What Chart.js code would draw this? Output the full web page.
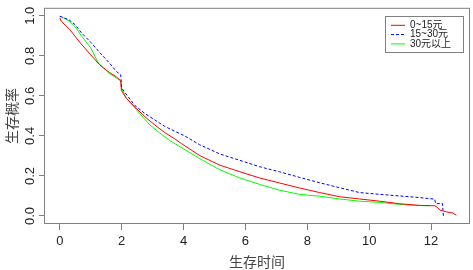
<!DOCTYPE html>
<html>
<head>
<meta charset="utf-8">
<script src="https://cdn.jsdelivr.net/npm/chart.js@4.4.1/dist/chart.umd.min.js"></script>
<style>
  html, body { margin: 0; padding: 0; background: #fff; }
  #wrap { width: 473px; height: 270px; }
</style>
</head>
<body>
<div id="wrap"><canvas id="km"></canvas></div>
<script>
// survival curves by price group
const groupLabels = ['0~15元', '15~30元', '30元以上'];

const lowT = [0, 0.05, 0.32, 0.65, 0.97, 1.29, 1.62, 1.83, 1.97, 1.99, 2.15, 2.42, 2.75, 3.07, 3.39, 3.72, 3.93, 4.52,
  5.17, 5.82, 6.46, 7.1, 7.75, 8.4, 9.05, 9.69, 10.34, 10.99, 11.63, 12.12, 12.2, 12.28, 12.49, 12.7, 12.82];
const lowS = [0.99, 0.972, 0.932, 0.867, 0.81, 0.755, 0.715, 0.695, 0.675, 0.628, 0.588, 0.545, 0.496, 0.455, 0.417, 0.385, 0.362, 0.302,
  0.254, 0.221, 0.19, 0.165, 0.14, 0.117, 0.096, 0.085, 0.074, 0.061, 0.053, 0.051, 0.044, 0.03, 0.021, 0.015, 0.004];

const midT = [0, 0.05, 0.3, 0.5, 0.7, 1.0, 1.3, 1.6, 1.83, 1.97, 2.0, 2.1, 2.42, 2.75, 3.07, 3.39, 3.72, 4.04, 4.52,
  5.17, 5.82, 6.46, 7.1, 7.75, 8.4, 9.05, 9.69, 10.34, 10.99, 11.63, 12.12, 12.15, 12.37, 12.4];
const midS = [0.998, 0.995, 0.98, 0.955, 0.915, 0.868, 0.815, 0.765, 0.722, 0.705, 0.64, 0.618, 0.553, 0.512, 0.48, 0.448, 0.423, 0.4, 0.356,
  0.31, 0.278, 0.246, 0.221, 0.193, 0.166, 0.141, 0.117, 0.108, 0.1, 0.092, 0.084, 0.062, 0.062, 0.0];

const highT = [0, 0.05, 0.3, 0.5, 0.7, 1.0, 1.24, 1.6, 1.83, 1.97, 2.0, 2.15, 2.58, 2.91, 3.23, 3.55, 3.82, 4.52,
  5.17, 5.82, 6.46, 7.1, 7.75, 8.4, 9.05, 9.69, 10.34, 10.99, 11.5, 11.95];
const highS = [0.998, 0.995, 0.975, 0.945, 0.9, 0.84, 0.765, 0.712, 0.69, 0.675, 0.635, 0.59, 0.513, 0.455, 0.415, 0.377, 0.352, 0.287,
  0.231, 0.19, 0.158, 0.129, 0.108, 0.099, 0.085, 0.074, 0.068, 0.058, 0.053, 0.051];

const xTickValues = [0, 2, 4, 6, 8, 10, 12];
const yTickValues = [0, 0.2, 0.4, 0.6, 0.8, 1.0];

const FRAME = '#808080';
const TEXT = '#222';

function pts(ts, ss) {
  return ts.map((t, i) => ({ x: t, y: ss[i] }));
}

// R-style box around the plot region
const boxPlugin = {
  id: 'box',
  afterDraw(chart) {
    const { ctx, chartArea: a } = chart;
    ctx.save();
    ctx.strokeStyle = FRAME;
    ctx.lineWidth = 1;
    ctx.strokeRect(a.left + 0.5, a.top + 0.5, a.right - a.left - 1, a.bottom - a.top - 1);
    ctx.restore();
  }
};

// legend in the top-right corner, built from the datasets
const legendPlugin = {
  id: 'cornerLegend',
  afterDraw(chart) {
    const { ctx, chartArea: a } = chart;
    const w = 78, h = 36;
    const x0 = a.right - 7 - w, y0 = a.top + 8;
    ctx.save();
    ctx.strokeStyle = FRAME;
    ctx.lineWidth = 1;
    ctx.strokeRect(Math.round(x0) + 0.5, Math.round(y0) + 0.5, w, h);
    ctx.font = '10px "Liberation Sans", "Noto Sans CJK SC", sans-serif';
    ctx.textBaseline = 'middle';
    ctx.fillStyle = TEXT;
    chart.data.datasets.forEach((ds, i) => {
      const y = y0 + 9.5 + i * 9.3;
      ctx.beginPath();
      ctx.strokeStyle = ds.borderColor;
      ctx.setLineDash(ds.borderDash || []);
      ctx.moveTo(x0 + 6, y);
      ctx.lineTo(x0 + 20, y);
      ctx.stroke();
      ctx.setLineDash([]);
      ctx.fillText(ds.label, x0 + 25, y);
    });
    ctx.restore();
  }
};

new Chart(document.getElementById('km'), {
  type: 'line',
  data: {
    datasets: [
      { label: groupLabels[0], data: pts(lowT, lowS), borderColor: '#ff0000', borderWidth: 1 },
      { label: groupLabels[1], data: pts(midT, midS), borderColor: '#0000ff', borderWidth: 1, borderDash: [3, 2] },
      { label: groupLabels[2], data: pts(highT, highS), borderColor: '#00ff00', borderWidth: 1 }
    ]
  },
  options: {
    responsive: true,
    maintainAspectRatio: false,
    animation: false,
    layout: { padding: { top: 1, right: 3, left: 0, bottom: 0 } },
    elements: { point: { radius: 0 }, line: { tension: 0 } },
    plugins: { legend: { display: false }, tooltip: { enabled: false } },
    scales: {
      x: {
        type: 'linear',
        min: -0.51, max: 13.26,
        afterBuildTicks: s => { s.ticks = xTickValues.map(v => ({ value: v })); },
        afterFit: s => { s.height = 46; },
        border: { display: false },
        grid: { drawOnChartArea: false, drawTicks: true, tickLength: 6, color: FRAME },
        ticks: { color: TEXT, padding: 4, font: { family: '"Liberation Sans", sans-serif', size: 13 }, maxRotation: 0 },
        title: {
          display: true, text: '生存时间', color: '#444',
          font: { family: '"Noto Sans CJK SC", sans-serif', size: 14, lineHeight: 1.2 },
          padding: { top: 0, bottom: 0 }
        }
      },
      y: {
        min: -0.04, max: 1.04,
        afterBuildTicks: s => { s.ticks = yTickValues.map(v => ({ value: v })); },
        afterFit: s => { s.width = 44; },
        border: { display: false },
        grid: { drawOnChartArea: false, drawTicks: true, tickLength: 5, color: FRAME },
        ticks: {
          color: TEXT, padding: 0, crossAlign: 'center', minRotation: 90, maxRotation: 90,
          font: { family: '"Liberation Sans", sans-serif', size: 13 },
          callback: v => v.toFixed(1)
        },
        title: {
          display: true, text: '生存概率', color: '#444',
          font: { family: '"Noto Sans CJK SC", sans-serif', size: 14, lineHeight: 1.2 },
          padding: { top: 3, bottom: 0 }
        }
      }
    }
  },
  plugins: [boxPlugin, legendPlugin]
});
</script>
</body>
</html>
